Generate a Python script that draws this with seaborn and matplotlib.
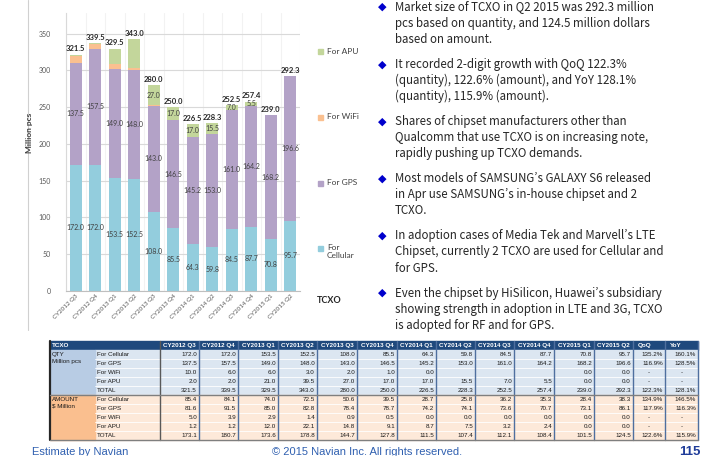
import numpy as np
import pandas as pd
import matplotlib
matplotlib.use('Agg')
import matplotlib.pyplot as plt
import seaborn as sns
from matplotlib.patches import Rectangle

# ---- data ----
quarters = ['CY2012 Q3', 'CY2012 Q4', 'CY2013 Q1', 'CY2013 Q2', 'CY2013 Q3', 'CY2013 Q4',
            'CY2014 Q1', 'CY2014 Q2', 'CY2014 Q3', 'CY2014 Q4', 'CY2015 Q1', 'CY2015 Q2']
qty_cellular = [172.0, 172.0, 153.5, 152.5, 108.0, 85.5, 64.3, 59.8, 84.5, 87.7, 70.8, 95.7]
qty_gps = [137.5, 157.5, 149.0, 148.0, 143.0, 146.5, 145.2, 153.0, 161.0, 164.2, 168.2, 196.6]
qty_wifi = [10.0, 6.0, 6.0, 3.0, 2.0, 1.0, 0.0, 0.0, 0.0, 0.0, 0.0, 0.0]
qty_apu = [2.0, 2.0, 21.0, 39.5, 27.0, 17.0, 17.0, 15.5, 7.0, 5.5, 0.0, 0.0]
qty_total = [321.5, 339.5, 329.5, 343.0, 280.0, 250.0, 226.5, 228.3, 252.5, 257.4, 239.0, 292.3]
apu_labels = ['', '', '', '', '27.0', '17.0', '17.0', '15.5', '7.0', '5.5', '', '']
qty_wifi_txt = ['10.0', '6.0', '6.0', '3.0', '2.0', '1.0', '0.0', '', '', '', '0.0', '0.0']

amt_cellular = [85.4, 84.1, 74.0, 72.5, 50.6, 39.5, 28.7, 25.8, 36.2, 35.3, 28.4, 38.3]
amt_gps = [81.6, 91.5, 85.0, 82.8, 78.4, 78.7, 74.2, 74.1, 73.6, 70.7, 73.1, 86.1]
amt_wifi = [5.0, 3.9, 2.9, 1.4, 0.9, 0.5, 0.0, 0.0, 0.0, 0.0, 0.0, 0.0]
amt_apu = [1.2, 1.2, 12.0, 22.1, 14.8, 9.1, 8.7, 7.5, 3.2, 2.4, 0.0, 0.0]
amt_total = [173.1, 180.7, 173.6, 178.8, 144.7, 127.8, 111.5, 107.4, 112.1, 108.4, 101.5, 124.5]

qty_qoq = ['135.2%', '116.9%', '-', '-', '122.3%']
qty_yoy = ['160.1%', '128.5%', '-', '-', '128.1%']
amt_qoq = ['134.9%', '117.9%', '-', '-', '122.6%']
amt_yoy = ['146.5%', '116.3%', '-', '-', '115.9%']

row_names = ['For Cellular', 'For GPS', 'For WiFi', 'For APU', 'TOTAL']
series_names = ['For APU', 'For WiFi', 'For GPS', 'For\nCellular']

bullets = [
    ['Market size of TCXO in Q2 2015 was 292.3 million',
     'pcs based on quantity, and 124.5 million dollars',
     'based on amount.'],
    ['It recorded 2-digit growth with QoQ 122.3%',
     '(quantity), 122.6% (amount), and YoY 128.1%',
     '(quantity), 115.9% (amount).'],
    ['Shares of chipset manufacturers other than',
     'Qualcomm that use TCXO is on increasing note,',
     'rapidly pushing up TCXO demands.'],
    ['Most models of SAMSUNG\u2019s GALAXY S6 released',
     'in Apr use SAMSUNG\u2019s in-house chipset and 2',
     'TCXO.'],
    ['In adoption cases of Media Tek and Marvell\u2019s LTE',
     'Chipset, currently 2 TCXO are used for Cellular and',
     'for GPS.'],
    ['Even the chipset by HiSilicon, Huawei\u2019s subsidiary',
     'showing strength in adoption in LTE and 3G, TCXO',
     'is adopted for RF and for GPS.'],
]

c_cell, c_gps, c_wifi, c_apu = '#93CDDD', '#B3A2C7', '#FAC090', '#C3D69B'

sns.set_style('white')
plt.rcParams['font.family'] = ['Lato', 'DejaVu Sans']

df = pd.DataFrame({'quarter': quarters, 'cellular': qty_cellular, 'gps': qty_gps,
                   'wifi': qty_wifi, 'apu': qty_apu})
df['gps_top'] = df['cellular'] + df['gps']
df['wifi_top'] = df['gps_top'] + df['wifi']
df['apu_top'] = df['wifi_top'] + df['apu']

fig = plt.figure(figsize=(7.15, 4.73), dpi=100)

# full-figure canvas in pixel coords for slide elements
bg = fig.add_axes([0, 0, 1, 1])
bg.set_xlim(0, 715)
bg.set_ylim(473, 0)
bg.axis('off')

# chart
ax = fig.add_axes([66 / 715, 1 - 291 / 473, 234 / 715, 278 / 473])
ax.set_facecolor('none')
for col, c in [('apu_top', c_apu), ('wifi_top', c_wifi), ('gps_top', c_gps), ('cellular', c_cell)]:
    sns.barplot(data=df, x='quarter', y=col, color=c, saturation=1, width=0.64,
                errorbar=None, linewidth=0, ax=ax, zorder=2)

ax.set_xlim(-0.5, 11.5)
ax.set_ylim(0, 378)
ax.set_yticks(range(0, 351, 50))
ax.set_xticks(np.arange(-0.5, 12, 1), minor=True)
ax.yaxis.grid(True, color='#D9D9D9', lw=0.8)
ax.xaxis.grid(True, which='minor', color='#F2F2F2', lw=0.8)
ax.set_axisbelow(True)
for s in ['top', 'right']:
    ax.spines[s].set_visible(False)
ax.spines['left'].set_color('#D9D9D9')
ax.spines['bottom'].set_color('#BFBFBF')
ax.tick_params(axis='y', labelsize=5, colors='#595959', length=3, color='#BFBFBF', pad=8)
ax.tick_params(axis='x', which='major', length=0, labelsize=4.5, labelcolor='#595959', pad=2)
ax.tick_params(axis='x', which='minor', length=3, color='#BFBFBF')
plt.setp(ax.get_xticklabels(), rotation=45, ha='right', rotation_mode='anchor')
ax.set_xlabel('')
ax.set_ylabel('Million pcs', fontsize=6, fontweight='bold', color='#404040')
ax.yaxis.set_label_coords(-0.141, 0.57)

lab_kw = dict(ha='center', va='center', fontsize=5, color='#404040', zorder=5)
for i in range(len(quarters)):
    ax.text(i, qty_cellular[i] / 2, f'{qty_cellular[i]:.1f}', **lab_kw)
    ax.text(i, qty_cellular[i] + qty_gps[i] / 2, f'{qty_gps[i]:.1f}', **lab_kw)
    if apu_labels[i]:
        ax.text(i, df['wifi_top'][i] + qty_apu[i] / 2, apu_labels[i], **lab_kw)
    ax.text(i, df['apu_top'][i] + 3, f'{qty_total[i]:.1f}', ha='center', va='bottom',
            fontsize=5.5, fontweight='bold', color='#262626', zorder=5)

# legend
for name, c, y in zip(series_names, [c_apu, c_wifi, c_gps, c_cell], [52, 117, 183, 248]):
    bg.add_patch(Rectangle((317.5, y - 2.5), 5, 5, color=c))
    bg.text(327, y - 4.5, name, fontsize=6, color='#404040', va='top', ha='left', linespacing=1.3)
bg.text(317, 300, 'TCXO', fontsize=6.5, fontweight='bold', color='#262626', va='center')
bg.plot([28, 28], [0, 330], color='#D0D0D0', lw=0.8)

# bullet text
y = 7
for block in bullets:
    bg.text(382, y, '\u25c6', color='#0000CC', fontsize=8, ha='center', va='center',
            family=['DejaVu Sans'])
    for line in block:
        bg.text(395, y, line, fontsize=8.3, color='#262626', va='center', ha='left',
                family=['Noto Sans CJK JP', 'DejaVu Sans'])
        y += 16.2
    y += 8.6

# table
col_edges = [50, 95, 160, 199, 238, 278, 317, 357, 397, 436, 475, 514, 554, 594, 633, 665, 698]
row_h = 9.0
tbl_font = ['Liberation Sans', 'DejaVu Sans']
bg.add_patch(Rectangle((50, 341), 648, 9, color='#1F497D', zorder=1))
bg.text(52, 345.5, 'TCXO', color='white', fontsize=4.5, fontweight='bold', va='center', family=tbl_font)
for j, q in enumerate(quarters):
    x0, x1 = col_edges[j + 2], col_edges[j + 3]
    bg.text((x0 + x1) / 2, 345.5, q, color='white', fontsize=4.5, fontweight='bold',
            ha='center', va='center', family=tbl_font)
for j, h in enumerate(['QoQ', 'YoY']):
    bg.text(col_edges[14 + j] + 5, 345.5, h, color='white', fontsize=4.5, fontweight='bold',
            ha='left', va='center', family=tbl_font)

blocks = [
    ('QTY\nMillion pcs', 350, '#DCE6F1', '#B8CCE4',
     [[f'{v:.1f}' for v in qty_cellular], [f'{v:.1f}' for v in qty_gps], qty_wifi_txt,
      [f'{v:.1f}' for v in qty_apu], [f'{v:.1f}' for v in qty_total]], qty_qoq, qty_yoy),
    ('AMOUNT\n$ Million', 395, '#FDE9D9', '#FABF8F',
     [[f'{v:.1f}' for v in amt_cellular], [f'{v:.1f}' for v in amt_gps], [f'{v:.1f}' for v in amt_wifi],
      [f'{v:.1f}' for v in amt_apu], [f'{v:.1f}' for v in amt_total]], amt_qoq, amt_yoy),
]
for group, top, light, dark, rows, qoq, yoy in blocks:
    bg.add_patch(Rectangle((95, top), 603, 5 * row_h, color=light, zorder=1))
    bg.add_patch(Rectangle((50, top), 45, 5 * row_h, color=dark, zorder=1))
    bg.text(52, top + 1.5, group, fontsize=4.5, color='#1A1A1A', va='top', ha='left',
            linespacing=1.5, family=tbl_font)
    for r in range(5):
        yc = top + (r + 0.5) * row_h
        if r > 0:
            bg.plot([95, 698], [top + r * row_h] * 2, color='white', lw=0.6, zorder=2)
        bg.text(97, yc, row_names[r], fontsize=4.5, color='#1A1A1A', va='center', family=tbl_font)
        for j in range(12):
            bg.text(col_edges[j + 3] - 2, yc, rows[r][j], fontsize=4.5, color='#1A1A1A',
                    ha='right', va='center', family=tbl_font)
        for j, v in enumerate([qoq[r], yoy[r]]):
            x = col_edges[15 + j] - 2 if v != '-' else (col_edges[14 + j] + col_edges[15 + j]) / 2
            bg.text(x, yc, v, fontsize=4.5, color='#1A1A1A', ha='right' if v != '-' else 'center',
                    va='center', family=tbl_font)
for x in col_edges[3:]:
    bg.plot([x, x], [341, 440], color='#4F6F9F', lw=1.0, zorder=3)
bg.plot([160, 160], [341, 440], color='#595959', lw=1.0, zorder=3)
bg.plot([50, 50], [341, 440], color='#262626', lw=1.6, zorder=3)
bg.plot([50, 698], [395, 395], color='#7F7F7F', lw=1.0, zorder=3)
bg.plot([50, 698], [440, 440], color='#7F7F7F', lw=1.0, zorder=3)

# footer (cut off at the bottom like the slide crop)
bg.text(32, 447, 'Estimate by Navian', fontsize=8, color='#3060B0', va='top', family=tbl_font)
bg.text(272, 447, '\u00a9 2015 Navian Inc. All rights reserved.', fontsize=8, color='#3060B0',
        va='top', family=tbl_font)
bg.text(700, 446, '115', fontsize=9.5, fontweight='bold', color='#1F3C99', va='top', ha='right',
        family=tbl_font)
bg.add_patch(Rectangle((0, 455.5), 715, 20, color='white', zorder=10))

fig.savefig('out.png', dpi=100)
